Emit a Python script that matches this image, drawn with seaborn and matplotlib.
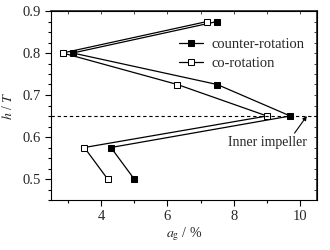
import numpy as np
import matplotlib
matplotlib.use("Agg")
import matplotlib.pyplot as plt
import seaborn as sns
from matplotlib.ticker import MultipleLocator

# gas holdup vs height
h_counter = [0.875, 0.80, 0.725, 0.65, 0.575, 0.50]
ag_counter = [7.5, 3.15, 7.5, 9.7, 4.3, 5.0]
h_co = [0.875, 0.80, 0.725, 0.65, 0.575, 0.50]
ag_co = [7.2, 2.85, 6.3, 9.0, 3.5, 4.2]
impeller_h = 0.65

sns.set_theme(style="ticks")
plt.rcParams['font.family'] = ['Liberation Serif', 'DejaVu Serif']
plt.rcParams['mathtext.fontset'] = 'stix'

fig = plt.figure(figsize=(3.3, 2.5), dpi=100)
ax = fig.add_axes([0.155, 0.2, 0.805, 0.756])

sns.lineplot(x=ag_counter, y=h_counter, sort=False, estimator=None, ax=ax, color='black', lw=0.9,
             marker='s', markersize=4.5, markerfacecolor='black', markeredgecolor='black',
             label='counter-rotation')
sns.lineplot(x=ag_co, y=h_co, sort=False, estimator=None, ax=ax, color='black', lw=0.9,
             marker='s', markersize=4.5, markerfacecolor='white', markeredgecolor='black',
             label='co-rotation')

ax.axhline(impeller_h, color='black', ls=(0, (3, 2.5)), lw=0.8)
ax.annotate('Inner impeller', xy=(10.2, impeller_h), xytext=(9.0, 0.586),
            ha='center', va='center', fontsize=10,
            arrowprops=dict(arrowstyle='-|>', color='black', lw=0.8,
                            mutation_scale=6, shrinkA=0, shrinkB=0,
                            relpos=(0.82, 1.0)))

ax.set_xlim(2.5, 10.5)
ax.set_ylim(0.45, 0.9)
ax.xaxis.set_major_locator(MultipleLocator(2))
ax.xaxis.set_minor_locator(MultipleLocator(1))
ax.yaxis.set_major_locator(MultipleLocator(0.1))
ax.yaxis.set_minor_locator(MultipleLocator(0.025))
ax.yaxis.set_major_formatter(matplotlib.ticker.FormatStrFormatter('%.1f'))
ax.tick_params(which='both', direction='out', labelsize=10.5, width=0.8, color='black')
ax.tick_params(which='major', length=4)
ax.tick_params(which='minor', length=2.5)
for s in ax.spines.values():
    s.set_linewidth(0.8)
    s.set_color('black')

sec = ax.secondary_xaxis('top')
sec.xaxis.set_major_locator(MultipleLocator(2))
sec.xaxis.set_minor_locator(MultipleLocator(1))
sec.tick_params(which='both', direction='in', labeltop=False, length=2.5, width=0.6)
sec2 = ax.secondary_yaxis('right')
sec2.yaxis.set_major_locator(MultipleLocator(0.1))
sec2.yaxis.set_minor_locator(MultipleLocator(0.025))
sec2.tick_params(which='both', direction='in', labelright=False, length=2.5, width=0.6)

ax.set_xlabel(r'$a_{\mathrm{g}}$ / %', fontsize=10, labelpad=1)
ax.set_ylabel(r'$h$ / $T$', fontsize=10, labelpad=5)

ax.legend(loc='upper left', bbox_to_anchor=(0.46, 0.89), frameon=False,
          fontsize=10.5, handlelength=1.6, handletextpad=0.6,
          borderaxespad=0, labelspacing=0.4)

fig.savefig('out.png', dpi=100)
